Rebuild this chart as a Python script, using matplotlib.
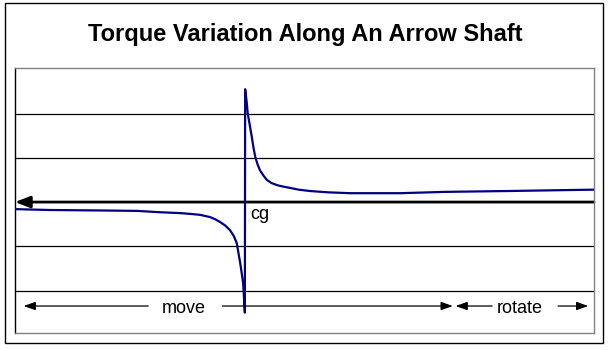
import matplotlib
matplotlib.use("Agg")
import matplotlib.pyplot as plt
from matplotlib.patches import Rectangle

plt.rcParams['font.family'] = ['Liberation Sans', 'DejaVu Sans']

# Position along the shaft (% of shaft length, nock -> point) and torque (relative units)
position = [0.0, 6.0, 14.7, 21.1, 25.0, 28.5, 30.5, 32.0, 33.7, 34.6, 35.4, 36.3,
            37.1, 37.8, 38.3, 38.9, 39.4, 39.6, 39.7, 39.75, 40.0, 40.2, 40.6,
            40.9, 41.2, 41.5, 41.9, 42.3, 42.9, 43.5, 44.3, 45.3, 46.3, 47.5,
            49.0, 50.9, 54.0, 57.9, 66.5, 74.3, 85.5, 95.0, 100.0]
torque = [-0.16, -0.18, -0.19, -0.20, -0.23, -0.25, -0.27, -0.29, -0.34, -0.39,
          -0.45, -0.53, -0.63, -0.77, -0.93, -1.38, -1.83, -2.28, -2.50, 2.55,
          2.28, 2.00, 1.70, 1.47, 1.22, 1.02, 0.85, 0.72, 0.60, 0.50, 0.43,
          0.38, 0.35, 0.32, 0.28, 0.25, 0.22, 0.20, 0.20, 0.23, 0.25, 0.27, 0.28]

grid_levels = [-2, -1, 1, 2]
cg_position = 40.6
move_label = "move"
rotate_label = "rotate"
title = "Torque Variation Along An Arrow Shaft"

W, H = 610, 350
fig = plt.figure(figsize=(W / 100, H / 100), dpi=100)
fig.patch.set_facecolor('white')

# outer frame
fig.add_artist(Rectangle((5 / W, 1 - 343 / H), 598 / W, 340 / H,
                         transform=fig.transFigure, fill=False,
                         edgecolor='black', lw=1.0))

ax = fig.add_axes([15 / W, 1 - 333 / H, 579 / W, 265 / H])
ax.set_xlim(0, 100)
ax.set_ylim(-2.96, 3.03)
ax.set_xticks([])
ax.set_yticks([])
for side in ['top', 'right', 'bottom']:
    ax.spines[side].set_color('#808080')
    ax.spines[side].set_linewidth(1.0)
ax.spines['left'].set_color('black')
ax.spines['left'].set_linewidth(1.0)

for g in grid_levels:
    ax.axhline(g, color='black', lw=0.9, zorder=1)

# shaft axis with arrow pointing toward the nock
ax.annotate('', xy=(0, 0), xytext=(100, 0),
            arrowprops=dict(arrowstyle='-|>,head_length=0.9,head_width=0.35',
                            color='black', lw=2.0, shrinkA=0, shrinkB=0),
            zorder=2)

ax.plot(position, torque, color='#000080', lw=1.6, zorder=3)

ax.text(cg_position, -0.1, 'cg', fontsize=13, ha='left', va='top', color='black')

# move / rotate region indicators
y_arr = -2.35
ap = dict(arrowstyle='-|>,head_length=0.7,head_width=0.25', color='black',
          lw=0.9, shrinkA=0, shrinkB=0)
ax.annotate('', xy=(1.5, y_arr), xytext=(23.0, y_arr), arrowprops=ap)
ax.annotate('', xy=(75.6, y_arr), xytext=(35.8, y_arr), arrowprops=ap)
ax.annotate('', xy=(76.1, y_arr), xytext=(82.4, y_arr), arrowprops=ap)
ax.annotate('', xy=(99.0, y_arr), xytext=(93.8, y_arr), arrowprops=ap)
ax.text(29.2, y_arr, move_label, fontsize=13, ha='center', va='center_baseline')
ax.text(87.2, y_arr, rotate_label, fontsize=13, ha='center', va='center_baseline')

fig.text(0.5, 1 - 41 / H, title, fontsize=17, fontweight='bold',
         ha='center', va='baseline')

fig.savefig('out.png', dpi=100)
